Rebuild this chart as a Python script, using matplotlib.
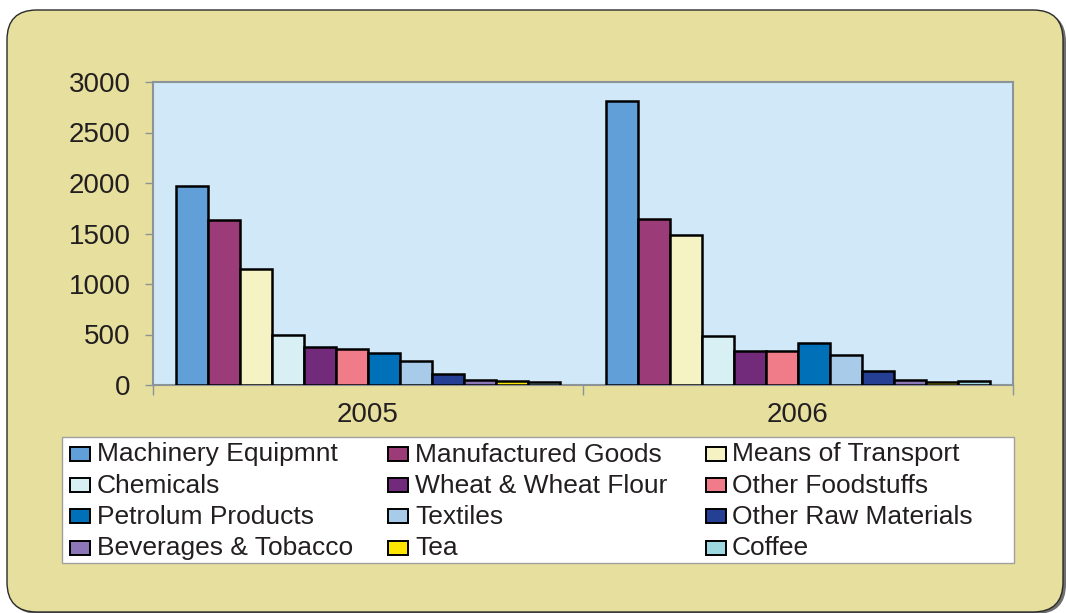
import matplotlib
matplotlib.use("Agg")
import matplotlib.pyplot as plt
from matplotlib.patches import FancyBboxPatch, Rectangle
import numpy as np

plt.rcParams['font.family'] = ['Liberation Sans', 'DejaVu Sans']

years = ["2005", "2006"]
categories = [
    "Machinery Equipmnt", "Manufactured Goods", "Means of Transport",
    "Chemicals", "Wheat & Wheat Flour", "Other Foodstuffs",
    "Petrolum Products", "Textiles", "Other Raw Materials",
    "Beverages & Tobacco", "Tea", "Coffee",
]
values_2005 = [1970, 1630, 1150, 500, 380, 360, 320, 235, 105, 45, 38, 28]
values_2006 = [2810, 1640, 1490, 490, 340, 333, 413, 295, 137, 45, 28, 35]
colors = ["#609fd8", "#9b3b78", "#f5f3c3", "#d8eff4", "#722a7b", "#f07c89",
          "#0071b9", "#a9cbea", "#253f95", "#8b76b8", "#ffe600", "#9ed8e0"]
yticks = [0, 500, 1000, 1500, 2000, 2500, 3000]

W, H = 1066, 613
fig = plt.figure(figsize=(W / 100, H / 100), dpi=100)
fig.patch.set_facecolor("white")


def fx(x):
    return x / W


def fy(y):
    return 1 - y / H


# outer rounded panel with shadow
shadow = FancyBboxPatch((fx(9), fy(614)), fx(1066) - fx(9), fy(12) - fy(614),
                        boxstyle="round,pad=0,rounding_size=0.028",
                        transform=fig.transFigure, facecolor="#6f6f6f", edgecolor="none",
                        mutation_aspect=W / H, zorder=0)
fig.patches.append(shadow)
panel = FancyBboxPatch((fx(7), fy(612)), fx(1063) - fx(7), fy(10) - fy(612),
                       boxstyle="round,pad=0,rounding_size=0.028",
                       transform=fig.transFigure, facecolor="#e6df9e", edgecolor="#2a2a2a",
                       linewidth=1.0, mutation_aspect=W / H, zorder=1)
fig.patches.append(panel)

ax = fig.add_axes([fx(153), fy(385), fx(1013) - fx(153), fy(82) - fy(385)])
ax.set_facecolor("#d0e8f7")
ax.set_zorder(2)

n = len(categories)
bw_ = 32 / 430
x = np.arange(len(years))
for i, cat in enumerate(categories):
    vals = [values_2005[i], values_2006[i]]
    offs = (i - (n - 1) / 2) * bw_
    ax.bar(x + offs, vals, width=bw_, color=colors[i], edgecolor="black",
           linewidth=1.8, zorder=3)

ax.set_xlim(-0.5, 1.5)
ax.set_ylim(0, 3000)
ax.set_yticks(yticks)
ax.set_yticklabels([str(v) for v in yticks])
ax.set_xticks([-0.5, 0.5, 1.5])
ax.set_xticklabels([])
ax.set_xticks(x, minor=True)
ax.set_xticklabels(years, minor=True)
ax.tick_params(axis="x", which="major", direction="out", length=7, width=1.0, color="#8c9497")
ax.tick_params(axis="x", which="minor", length=0, pad=12, labelsize=20, labelcolor="#231f20")
ax.tick_params(axis="y", direction="out", length=6, width=1.0, color="#8c9497",
               pad=10, labelsize=20, labelcolor="#231f20")
for s in ax.spines.values():
    s.set_color("#8c9497")
    s.set_linewidth(1.5)

# legend box laid out in Excel's row-major order (3 columns x 4 rows)
frame = Rectangle((fx(62), fy(563)), fx(1014) - fx(62), fy(437) - fy(563),
                  transform=fig.transFigure, facecolor="white", edgecolor="#a0a0a0",
                  linewidth=1.0, zorder=3)
fig.patches.append(frame)
col_marker_x = [70, 388, 706]
col_text_x = [97, 415, 732]
row_baseline = [461.5, 492.7, 523.9, 555.1]
for k, cat in enumerate(categories):
    r, c = divmod(k, 3)
    mx = col_marker_x[c]
    my = row_baseline[r] - 7.5
    fig.patches.append(Rectangle((fx(mx), fy(my + 7)), fx(20), 14 / H,
                                 transform=fig.transFigure, facecolor=colors[k],
                                 edgecolor="black", linewidth=1.4, zorder=4))
    fig.text(fx(col_text_x[c]), fy(row_baseline[r]), cat, fontsize=19,
             color="#231f20", ha="left", va="baseline", zorder=5)

fig.savefig("out.png", dpi=100)
